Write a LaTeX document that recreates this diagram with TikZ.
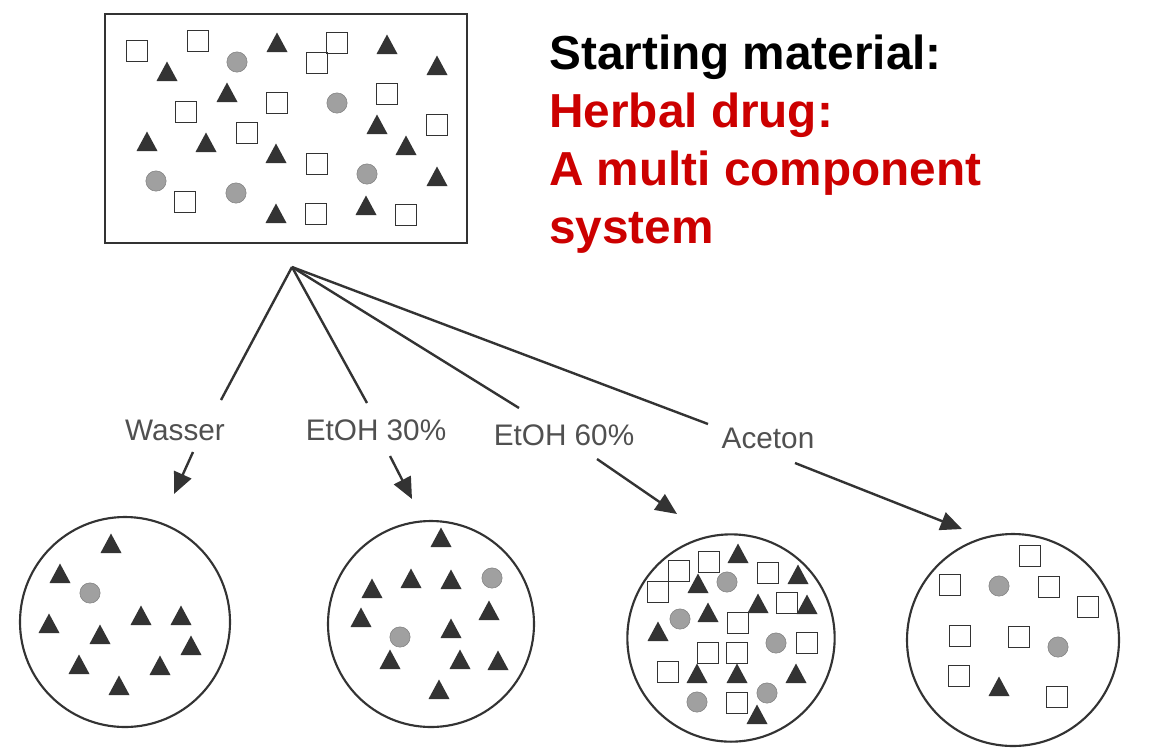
\documentclass[tikz,border=0pt]{standalone}
\usepackage{fontspec}
\setmainfont{Liberation Sans}
\usetikzlibrary{arrows.meta}
\definecolor{inkgray}{HTML}{333333}
\definecolor{labelgray}{HTML}{505050}
\definecolor{dotgray}{HTML}{A0A0A0}
\definecolor{drugred}{HTML}{CC0000}
\tikzset{
	sqmark/.pic={\draw[inkgray, line width=1.4pt] (-10.5,-10.5) rectangle (10.5,10.5);},
	trimark/.pic={\fill[inkgray] (-10.5,9) -- (10.5,9) -- (0,-10.5) -- cycle;},
	dotmark/.pic={\fill[dotgray, draw=gray] (0,0) circle (7.6pt);},
	pool/.style={draw=inkgray, line width=1.6pt, circle, minimum size=#1, inner sep=0pt},
	solvent/.style={text=labelgray, font=\fontsize{22.3}{26}\selectfont, anchor=base, inner sep=0pt},
	fanline/.style={draw=inkgray, line width=1.8pt},
	arr/.style={draw=inkgray, line width=1.8pt, -{Triangle[length=16pt, width=14pt]}}
}
\begin{document}
\begin{tikzpicture}[x=0.75pt, y=-0.75pt]
				\useasboundingbox (0,0) rectangle (1155,747);
				
				\coordinate (P) at (105, 14);
				\coordinate (Q) at (467, 243);
				\coordinate (F) at (292, 267);
				\coordinate (W1) at (221, 400);
				\coordinate (E1) at (367, 403);
				\coordinate (S1) at (519, 408);
				\coordinate (A1) at (708, 424);
				\coordinate (W2) at (193, 452);
				\coordinate (W3) at (174, 494);
				\coordinate (E2) at (390, 456);
				\coordinate (E3) at (412, 499);
				\coordinate (S2) at (597, 459);
				\coordinate (S3) at (677, 514);
				\coordinate (A2) at (795, 463);
				\coordinate (A3) at (962, 529);
				
				\draw[inkgray, line width=2.2pt] (P) rectangle (Q);
				
				\node[pool=157.5pt] (C1) at (125, 622) {};
				\node[pool=154.5pt] (C2) at (431, 624) {};
				\node[pool=155.5pt] (C3) at (731, 638) {};
				\node[pool=159pt] (C4) at (1013, 640) {};
				
				\node[anchor=north west, align=left, inner sep=0pt,
					font=\fontsize{35.8}{43.5}\selectfont\bfseries] (T) at (549, 35)
					{Starting material:\\ \textcolor{drugred}{Herbal drug:}\\
					 \textcolor{drugred}{A multi component}\\ \textcolor{drugred}{system}};
				
				\node[solvent] (W) at (175, 440) {Wasser};
				\node[solvent] (E) at (376, 440) {EtOH 30\%};
				\node[solvent] (S) at (564, 445) {EtOH 60\%};
				\node[solvent] (A) at (768, 448) {Aceton};
				
				\draw[fanline] (F) -- (W1);
				\draw[fanline] (F) -- (E1);
				\draw[fanline] (F) -- (S1);
				\draw[fanline] (F) -- (A1);
				
				\draw[arr] (W2) -- (W3);
				\draw[arr] (E2) -- (E3);
				\draw[arr] (S2) -- (S3);
				\draw[arr] (A2) -- (A3);
				
				\foreach \x/\y in {137/51, 198/41, 337/43, 317/63, 186/112, 277/103, 387/94,
					247/133, 437/125, 317/164, 185/202, 316/214, 406/215,
					709/562, 679/571, 658/592, 768/573, 787/603, 738/623, 708/653,
					737/653, 807/643, 668/672, 737/703,
					1030/556, 950/585, 1049/587, 1088/607, 960/636, 1019/637, 959/676, 1057/697}
					\pic at (\x, \y) {sqmark};
				
				\foreach \x/\y in {237/62, 337/103, 156/181, 236/193, 367/174,
					90/593, 492/578, 400/637,
					727/582, 680/619, 776/643, 767/693, 697/702,
					999/586, 1058/647}
					\pic at (\x, \y) {dotmark};
				
				\foreach \x/\y in {167/72, 277/43, 387/45, 437/66, 227/93, 377/125, 147/142,
					206/143, 406/146, 276/154, 437/177, 366/206, 276/214,
					111/544, 60/574, 141/616, 181/616, 49/624, 100/635, 191/646, 79/665, 160/666, 119/686,
					441/538, 411/579, 451/580, 372/589, 489/611, 361/618, 451/629, 390/660, 460/660,
					498/661, 439/690,
					738/554, 798/575, 698/584, 758/604, 807/605, 708/613, 658/632, 697/674, 737/674,
					796/674, 757/715,
					999/687}
					\pic at (\x, \y) {trimark};
			\end{tikzpicture}
\end{document}
